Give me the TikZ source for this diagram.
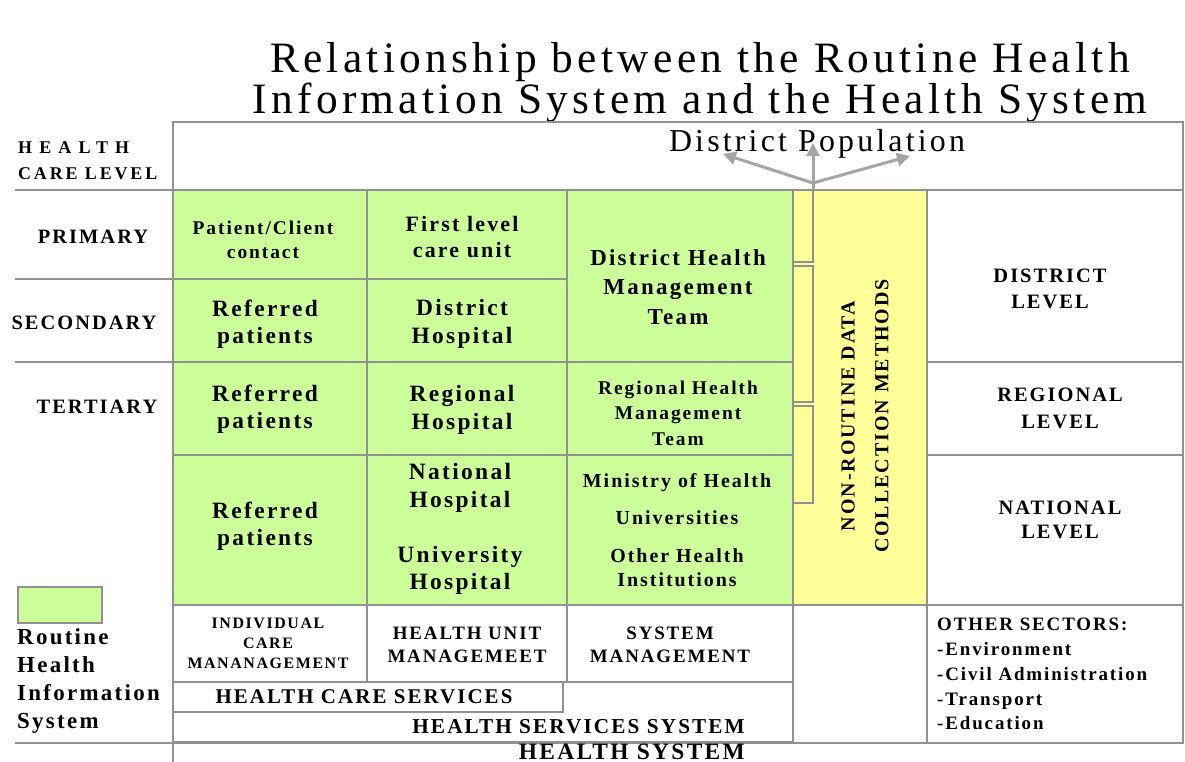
\documentclass[tikz,border=0pt]{standalone}
\usepackage{fontspec}
\setmainfont{Liberation Serif}
\newfontfamily\spaced{Liberation Serif}[LetterSpace=10]
\usetikzlibrary{arrows.meta}

\definecolor{cellgreen}{RGB}{204,255,153}
\definecolor{cellyellow}{RGB}{255,255,153}
\definecolor{rulegray}{RGB}{145,145,145}
\definecolor{arrowgray}{RGB}{165,165,165}

\newcommand\fsz[2]{\fontsize{#1}{#2}\selectfont}

\begin{document}
\begin{tikzpicture}[x=1bp,y=-1bp,
  box/.style={draw=rulegray, line width=2.8bp},
  greenbox/.style={box, fill=cellgreen},
  yellowbox/.style={box, fill=cellyellow},
  whitebox/.style={box, fill=white},
  rulefree/.style={draw=rulegray, line width=2.8bp},
  lbl/.style={inner sep=0pt, align=center},
  bold/.style 2 args={lbl, font=\spaced\bfseries\fsz{#1}{#2}},
  flow/.style={draw=arrowgray, line width=3bp, -{Triangle[length=13bp,width=13bp]}}
]
\useasboundingbox (0,0) rectangle (1185,762);
\fill[white] (0,0) rectangle (1185,762);

% title
\node[lbl, anchor=base, font=\spaced\fsz{43.5}{40}] (title1) at (700,73) {Relationship between the Routine Health};
\node[lbl, anchor=base, font=\spaced\fsz{43.5}{40}] (title2) at (700,114) {Information System and the Health System};

% population row
\draw[whitebox] (173,122) rectangle (1183,190);
\node[lbl, anchor=base, font=\spaced\fsz{32}{36}] (pop) at (817,151) {District Population};

% column 1
\draw[greenbox] (173,190) rectangle (367,279);
\draw[greenbox] (173,279) rectangle (367,362);
\draw[greenbox] (173,362) rectangle (367,455);
\draw[greenbox] (173,455) rectangle (367,605);
% column 2
\draw[greenbox] (367,190) rectangle (567,279);
\draw[greenbox] (367,279) rectangle (567,362);
\draw[greenbox] (367,362) rectangle (567,455);
\draw[greenbox] (367,455) rectangle (567,605);
% column 3
\draw[greenbox] (567,190) rectangle (793,362);
\draw[greenbox] (567,362) rectangle (793,455);
\draw[greenbox] (567,455) rectangle (793,605);
% non-routine column
\draw[yellowbox] (793,190) rectangle (927,605);
\draw[box] (793,190) rectangle (813,262);
\draw[box] (793,266) rectangle (813,402);
\draw[box] (793,406) rectangle (813,503);
% level column
\draw[whitebox] (927,190) rectangle (1183,362);
\draw[whitebox] (927,362) rectangle (1183,455);
\draw[whitebox] (927,455) rectangle (1183,605);
\draw[whitebox] (927,605) rectangle (1183,743);
\draw[whitebox] (793,605) rectangle (927,743);
% management row
\draw[whitebox] (173,605) rectangle (367,682);
\draw[whitebox] (367,605) rectangle (567,682);
\draw[whitebox] (567,605) rectangle (793,682);
% services
\draw[whitebox] (173,682) rectangle (793,742);
\draw[whitebox] (173,682) rectangle (563,712);
% health system and left rules
\draw[rulefree] (173,743) -- (1183,743);
\draw[rulefree] (173,122) -- (173,765);
\draw[rulefree] (15,190) -- (173,190);
\draw[rulefree] (15,279) -- (173,279);
\draw[rulefree] (15,362) -- (173,362);
\draw[rulefree] (15,743) -- (173,743);

% arrows to the population
\coordinate (fork) at (813,183);
\coordinate (stem) at (813,190);
\coordinate (upTip) at (813,143);
\coordinate (leftTip) at (723,154);
\coordinate (rightTip) at (910,156);
\draw[flow] (stem) -- (upTip);
\draw[flow] (fork) -- (leftTip);
\draw[flow] (fork) -- (rightTip);

% left labels
\node[lbl, anchor=west, align=left, font=\spaced\bfseries\fsz{18}{26}] (carelevel) at (18,161)
  {{\addfontfeature{LetterSpace=40}HEALTH}\\{\addfontfeature{LetterSpace=16}CARE LEVEL}};
\node[bold={20.5}{24}] (primary) at (93,237) {PRIMARY};
\node[bold={20.5}{24}] (secondary) at (84,323) {SECONDARY};
\node[bold={20.5}{24}] (tertiary) at (97,407) {TERTIARY};

% legend
\draw[greenbox, line width=2bp] (18,587) rectangle (102,623);
\node[lbl, anchor=west, align=left, font=\spaced\bfseries\fsz{23}{28}] (legend) at (17,681)
  {Routine\\Health\\Information\\System};

% column 1 texts
\node[bold={19.5}{24}] (patient) at (263,240) {Patient/Client\\contact};
\node[bold={23.5}{27.5}] (ref1) at (265,324) {Referred\\patients};
\node[bold={23.5}{27.5}] (ref2) at (265,409) {Referred\\patients};
\node[bold={23.5}{27.5}] (ref3) at (265,526) {Referred\\patients};
\node[bold={16}{20}] (indiv) at (268,643) {INDIVIDUAL\\CARE\\MANANAGEMENT};

% column 2 texts
\node[bold={22}{27}] (firstlevel) at (462,237) {First level\\care unit};
\node[bold={23.5}{27.5}] (disthosp) at (462,324) {District\\Hospital};
\node[bold={23.5}{27.5}] (reghosp) at (462,410) {Regional\\Hospital};
\node[bold={23.5}{28}] (nathosp) at (460,529) {National\\Hospital\\[27bp]University\\Hospital};
\node[bold={19}{23}] (unitmgmt) at (467,645) {HEALTH UNIT\\MANAGEMEET};

% column 3 texts
\node[bold={23}{29.5}] (dhmt) at (678,287) {District Health\\Management\\Team};
\node[bold={19.5}{25.5}] (rhmt) at (678,413) {Regional Health\\Management\\Team};
\node[bold={20}{24}] (ministry) at (677,530)
  {Ministry of Health\\[14bp]Universities\\[14bp]Other Health\\Institutions};
\node[bold={19}{23}] (sysmgmt) at (670,645) {SYSTEM\\MANAGEMENT};

% non-routine methods
\node[lbl, rotate=90, font=\spaced\bfseries\fsz{20}{34}] (nonroutine) at (865,416)
  {NON-ROUTINE DATA\\COLLECTION METHODS};

% levels
\node[bold={20.5}{26}] (district) at (1050,289) {DISTRICT\\LEVEL};
\node[bold={20.5}{27}] (regional) at (1060,408) {REGIONAL\\LEVEL};
\node[bold={20.5}{24}] (national) at (1060,520) {NATIONAL\\LEVEL};
\node[lbl, anchor=west, align=left, font=\spaced\bfseries\fsz{19}{25}] (sectors) at (937,674)
  {OTHER SECTORS:\\-Environment\\-Civil Administration\\-Transport\\-Education};

% services and systems
\node[bold={21}{24}] (hcs) at (364,697) {HEALTH CARE SERVICES};
\node[bold={21.3}{24}, anchor=east] (hss) at (745,727) {HEALTH SERVICES SYSTEM};
\node[bold={23.5}{27}, anchor=east] (hs) at (745,751.5) {HEALTH SYSTEM};
\end{tikzpicture}
\end{document}
